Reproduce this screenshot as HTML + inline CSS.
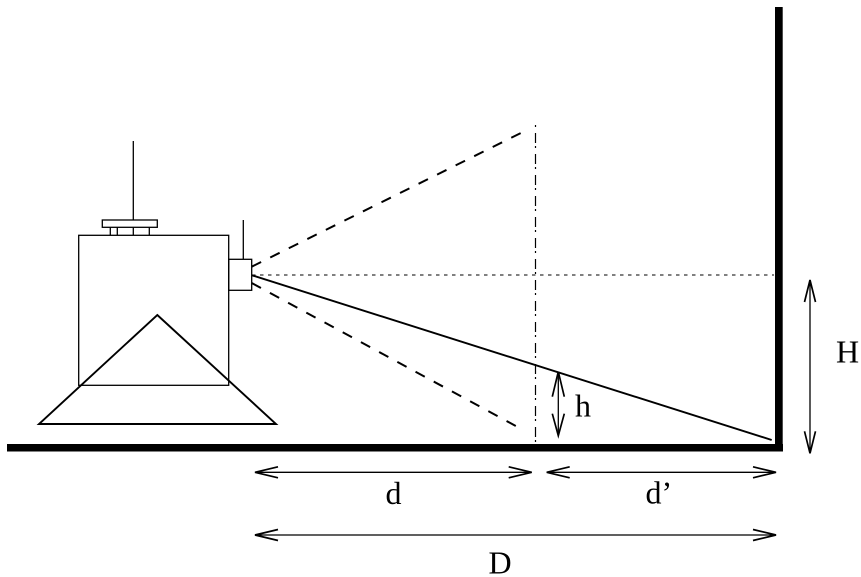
<!DOCTYPE html>
<html>
<head>
<meta charset="utf-8">
<style>
  html, body { margin: 0; padding: 0; background: #fff; }
  svg { display: block; }
  text { font-family: "Liberation Serif", "Times New Roman", serif; font-size: 32px; fill: #000; }
</style>
</head>
<body>
<svg width="861" height="577" viewBox="0 0 861 577" xmlns="http://www.w3.org/2000/svg">
  <rect x="0" y="0" width="861" height="577" fill="#fff"/>

  <!-- Floor and wall -->
  <rect x="7" y="444" width="776" height="7.5" fill="#000"/>
  <rect x="775" y="7" width="7.7" height="444.5" fill="#000"/>

  <!-- Camera -->
  <g fill="none" stroke="#000" stroke-width="1.3">
    <line x1="133.3" y1="141" x2="133.3" y2="220"/>
    <rect x="102.3" y="220" width="55" height="7.3"/>
    <line x1="110.3" y1="227.3" x2="110.3" y2="235.3"/>
    <line x1="117.3" y1="227.3" x2="117.3" y2="235.3"/>
    <line x1="133.3" y1="227.3" x2="133.3" y2="235.3"/>
    <line x1="149.3" y1="227.3" x2="149.3" y2="235.3"/>
    <rect x="78.7" y="235.3" width="150" height="150"/>
    <rect x="228.7" y="259.3" width="23" height="31"/>
    <line x1="243.3" y1="220" x2="243.3" y2="259.3"/>
  </g>
  <polygon points="157.3,315 276,424 39,424" fill="none" stroke="#000" stroke-width="1.9" stroke-linejoin="miter"/>

  <!-- Rays -->
  <line x1="251.7" y1="266.7" x2="524.3" y2="131.3" stroke="#000" stroke-width="2" stroke-dasharray="10.5 10.2"/>
  <line x1="251.7" y1="283" x2="519.5" y2="428" stroke="#000" stroke-width="2" stroke-dasharray="10.5 10.2"/>
  <line x1="251.7" y1="275.2" x2="771.7" y2="440" stroke="#000" stroke-width="1.9"/>
  <line x1="252" y1="275" x2="774" y2="275" stroke="#000" stroke-width="1" stroke-dasharray="3.5 4.5"/>

  <!-- Vertical dash-dot -->
  <line x1="535.5" y1="125" x2="535.5" y2="444" stroke="#000" stroke-width="1.2" stroke-dasharray="2 6 10 3"/>

  <!-- Dimension arrows -->
  <g fill="none" stroke="#000" stroke-width="1.3">
    <!-- d -->
    <line x1="255" y1="472.3" x2="531.7" y2="472.3"/>
    <polyline points="278,466.8 255,472.3 278,477.8" stroke-width="1.7"/>
    <polyline points="508.7,466.8 531.7,472.3 508.7,477.8" stroke-width="1.7"/>
    <!-- d' -->
    <line x1="546.7" y1="472.3" x2="776" y2="472.3"/>
    <polyline points="569.7,466.8 546.7,472.3 569.7,477.8" stroke-width="1.7"/>
    <polyline points="753,466.8 776,472.3 753,477.8" stroke-width="1.7"/>
    <!-- D -->
    <line x1="255" y1="535" x2="776" y2="535"/>
    <polyline points="278,529.5 255,535 278,540.5" stroke-width="1.7"/>
    <polyline points="753,529.5 776,535 753,540.5" stroke-width="1.7"/>
    <!-- H -->
    <line x1="810" y1="280" x2="810" y2="453.3"/>
    <polyline points="804.5,302 810,280 815.5,302" stroke-width="1.7"/>
    <polyline points="804.5,431.3 810,453.3 815.5,431.3" stroke-width="1.7"/>
    <!-- h -->
    <line x1="558.3" y1="371.7" x2="558.3" y2="435.7"/>
    <polyline points="552.3,396.7 558.3,371.7 564.3,396.7" stroke-width="1.7"/>
    <polyline points="552.3,413.7 558.3,435.7 564.3,413.7" stroke-width="1.7"/>
  </g>

  <!-- Labels -->
  <text x="575" y="416.7">h</text>
  <text x="385.5" y="504">d</text>
  <text x="645.5" y="503.3">d’</text>
  <text x="488.5" y="573.3">D</text>
  <text x="836" y="362.3">H</text>
</svg>
</body>
</html>
